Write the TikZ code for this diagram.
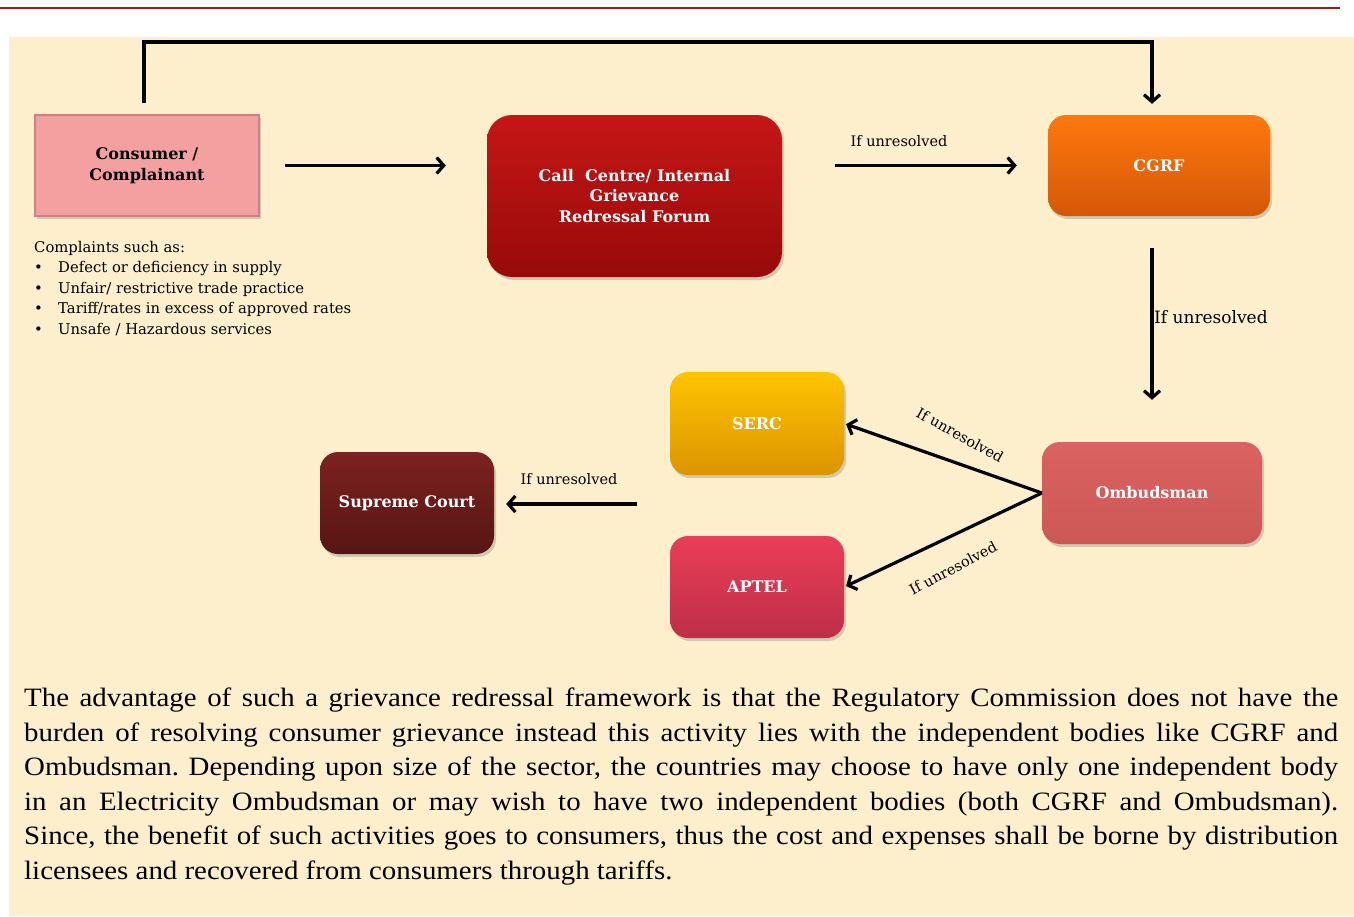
\documentclass[tikz,border=0pt]{standalone}
\usepackage{fontspec}
\setmainfont{Liberation Serif}
\newfontfamily\dejavu{DejaVu Serif}
\newfontfamily\parafont[FakeStretch=1.09]{Liberation Serif}
\usetikzlibrary{arrows.meta,shadows}
\definecolor{bgc}{RGB}{253,239,203}
\definecolor{redline}{RGB}{160,24,24}
\definecolor{pinkbox}{RGB}{244,160,160}
\definecolor{pinkedge}{RGB}{205,130,130}
\definecolor{callT}{RGB}{198,22,22}
\definecolor{callB}{RGB}{152,10,10}
\definecolor{cgrfT}{RGB}{255,120,14}
\definecolor{cgrfB}{RGB}{212,88,8}
\definecolor{ombT}{RGB}{218,98,96}
\definecolor{ombB}{RGB}{204,88,86}
\definecolor{sercT}{RGB}{255,196,0}
\definecolor{sercB}{RGB}{220,148,0}
\definecolor{aptT}{RGB}{234,62,88}
\definecolor{aptB}{RGB}{190,46,72}
\definecolor{scT}{RGB}{124,34,32}
\definecolor{scB}{RGB}{86,22,20}
\tikzset{
  box/.style={rectangle, rounded corners=18pt, inner sep=0pt, align=center,
    font=\dejavu\bfseries\fontsize{16}{20.5}\selectfont, text=white,
    drop shadow={opacity=0.35, shadow xshift=2pt, shadow yshift=-3pt}},
  arr/.style={line width=3.2pt, -{Straight Barb[length=7pt,width=16pt,line width=3.2pt]}},
  lab/.style={font=\dejavu\fontsize{14.5}{17}\selectfont, inner sep=0pt},
  ctext/.style={font=\dejavu\fontsize{14.8}{17}\selectfont, inner sep=0pt, anchor=base west},
  para/.style={font=\parafont\fontsize{26.5}{34.6}\selectfont, inner sep=0pt, anchor=base west}
}
\begin{document}
\frenchspacing
\begin{tikzpicture}[x=1pt,y=-1pt]
\useasboundingbox (0,0) rectangle (1354,916);
\fill[white] (0,0) rectangle (1354,916);
\fill[bgc] (9,37) rectangle (1354,916);
\draw[redline, line width=2pt] (0,8) -- (1340,8);

% boxes
\node[box, rounded corners=0pt, minimum width=224pt, minimum height=101pt, fill=pinkbox, draw=pinkedge, line width=1.5pt, text=black] (cons) at (147,165.5) {Consumer /\\Complainant};
\node[box, rounded corners=25pt, minimum width=295pt, minimum height=162pt, top color=callT, bottom color=callB] (call) at (634.5,196) {Call\ \ Centre/ Internal\\Grievance\\Redressal Forum};
\node[box, minimum width=222pt, minimum height=101pt, top color=cgrfT, bottom color=cgrfB] (cgrf) at (1159,165.5) {CGRF};
\node[box, minimum width=220pt, minimum height=102pt, top color=ombT, bottom color=ombB] (omb) at (1152,493) {Ombudsman};
\node[box, minimum width=174pt, minimum height=103pt, top color=sercT, bottom color=sercB] (serc) at (757,423.5) {SERC};
\node[box, minimum width=174pt, minimum height=102pt, top color=aptT, bottom color=aptB] (aptel) at (757,587) {APTEL};
\node[box, minimum width=174pt, minimum height=102pt, top color=scT, bottom color=scB] (sc) at (407,503) {Supreme Court};

% connectors
\coordinate (topr) at (1152,42);
\draw[arr, shorten <=11pt, shorten >=11pt] ([xshift=-3pt]cons.north) |- (topr) -- ([xshift=-7pt]cgrf.north);
\draw[arr, shorten <=25pt, shorten >=41pt] (cons.east) -- (cons.east -| call.west);
\draw[arr, shorten <=53pt, shorten >=31pt] (cgrf.west -| call.east) -- (cgrf.west);
\draw[arr, shorten <=32pt, shorten >=42pt] (cgrf.south -| omb.north) -- (omb.north);
\draw[arr, shorten >=2pt] (omb.west) -- (serc.east);
\draw[arr, shorten >=2pt] (omb.west) -- (aptel.east);
\coordinate (scsrc) at (637,504);
\draw[arr, shorten >=12pt] (scsrc) -- (sc.east |- scsrc);

% labels
\node[lab] (l1) at (899,141) {If unresolved};
\node[lab, anchor=west, font=\dejavu\fontsize{17}{20}\selectfont] (l2) at (1154,317) {If unresolved};
\node[lab, rotate=-29] (l3) at (960,435) {If unresolved};
\node[lab, rotate=28] (l4) at (953,568) {If unresolved};
\node[lab] (l5) at (569,479) {If unresolved};

% complaints
\node[ctext] (c0) at (34,252) {Complaints such as:};
\node[ctext] (c1) at (34,272.5) {\makebox[24pt][l]{•}Defect or deficiency in supply};
\node[ctext] (c2) at (34,293) {\makebox[24pt][l]{•}Unfair/ restrictive trade practice};
\node[ctext] (c3) at (34,313.5) {\makebox[24pt][l]{•}Tariff/rates in excess of approved rates};
\node[ctext] (c4) at (34,334) {\makebox[24pt][l]{•}Unsafe / Hazardous services};

% paragraph
\node[para] (p1) at (24,706.5) {\makebox[1314pt][s]{The advantage of such a grievance redressal framework is that the Regulatory Commission does not have the}};
\node[para] (p2) at (24,741.1) {\makebox[1314pt][s]{burden of resolving consumer grievance instead this activity lies with the independent bodies like CGRF and}};
\node[para] (p3) at (24,775.7) {\makebox[1314pt][s]{Ombudsman. Depending upon size of the sector, the countries may choose to have only one independent body}};
\node[para] (p4) at (24,810.3) {\makebox[1314pt][s]{in an Electricity Ombudsman or may wish to have two independent bodies (both CGRF and Ombudsman).}};
\node[para] (p5) at (24,844.9) {\makebox[1314pt][s]{Since, the benefit of such activities goes to consumers, thus the cost and expenses shall be borne by distribution}};
\node[para] (p6) at (24,879.5) {licensees and recovered from consumers through tariffs.};
\end{tikzpicture}
\end{document}
